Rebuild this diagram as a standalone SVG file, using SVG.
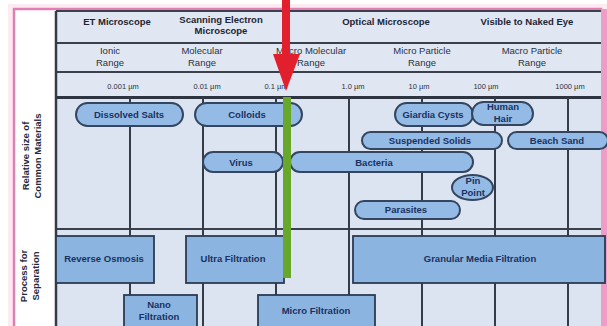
<svg xmlns="http://www.w3.org/2000/svg" width="607" height="326" viewBox="0 0 607 326">
<style>
.hdr{font-family:"Liberation Sans",Arial,sans-serif;font-weight:bold;font-size:9.5px;fill:#1d2533;text-anchor:middle}
.rng{font-family:"Liberation Sans",Arial,sans-serif;font-size:9.5px;fill:#2a3240;text-anchor:middle}
.um{font-family:"Liberation Sans",Arial,sans-serif;font-size:7.5px;fill:#2a3240;text-anchor:middle}
.lbl{font-family:"Liberation Sans",Arial,sans-serif;font-weight:bold;font-size:9.5px;fill:#1f2a3c;text-anchor:middle}
.pill{fill:#93bbe5;stroke:#34465f;stroke-width:2}
.box{fill:#8cb4e1;stroke:#2c3b52;stroke-width:1.8}
.ntx{font-family:"Liberation Sans",Arial,sans-serif;font-weight:bold;font-size:9.5px;fill:#1b3160;text-anchor:middle}
.grid{stroke:#343c48;stroke-width:2}
.hl{stroke:#3a414c;stroke-width:2}
</style>
<rect x="0" y="0" width="607" height="326" fill="#ffffff"/>
<rect x="8" y="4" width="599" height="330" fill="#fcecf2"/>
<rect x="14" y="9" width="587" height="330" fill="#ffffff" stroke="#e07fb4" stroke-width="2.5"/>
<rect x="601" y="9" width="6" height="320" fill="#ef9cc6"/>
<g id="chart">
<rect x="56" y="11" width="545" height="320" fill="#dce4f1"/>
<rect x="56" y="11" width="545" height="86" fill="#e0e7f3"/>
<line class="hl" x1="56" y1="11" x2="601" y2="11"/>
<line class="hl" x1="56" y1="43" x2="601" y2="43"/>
<line class="hl" x1="56" y1="72" x2="601" y2="72"/>
<line x1="56" y1="97.5" x2="601" y2="97.5" stroke="#2f3540" stroke-width="3"/>
<line class="hl" x1="56" y1="229" x2="601" y2="229"/>
<line x1="56" y1="11" x2="56" y2="326" stroke="#343c48" stroke-width="2.5"/>
</g>
<g id="grid">
<line class="grid" x1="130" y1="97" x2="130" y2="326"/>
<line class="grid" x1="203" y1="97" x2="203" y2="326"/>
<line class="grid" x1="276" y1="97" x2="276" y2="326"/>
<line class="grid" x1="349" y1="97" x2="349" y2="326"/>
<line class="grid" x1="422" y1="97" x2="422" y2="326"/>
<line class="grid" x1="495" y1="97" x2="495" y2="326"/>
<line class="grid" x1="568" y1="97" x2="568" y2="326"/>
</g>
<g id="headers">
<text class="hdr" x="117" y="25">ET Microscope</text>
<text class="hdr" x="221" y="23">Scanning Electron</text>
<text class="hdr" x="221" y="34">Microscope</text>
<text class="hdr" x="386" y="25">Optical Microscope</text>
<text class="hdr" x="527" y="25">Visible to Naked Eye</text>
<text class="rng" x="110" y="54">Ionic</text>
<text class="rng" x="110" y="66">Range</text>
<text class="rng" x="202" y="54">Molecular</text>
<text class="rng" x="202" y="66">Range</text>
<text class="rng" x="311" y="54">Macro Molecular</text>
<text class="rng" x="311" y="66">Range</text>
<text class="rng" x="422" y="54">Micro Particle</text>
<text class="rng" x="422" y="66">Range</text>
<text class="rng" x="532" y="54">Macro Particle</text>
<text class="rng" x="532" y="66">Range</text>
<text class="um" x="123" y="89">0.001 µm</text>
<text class="um" x="207" y="89">0.01 µm</text>
<text class="um" x="276" y="89">0.1 µm</text>
<text class="um" x="353" y="89">1.0 µm</text>
<text class="um" x="419" y="89">10 µm</text>
<text class="um" x="486" y="89">100 µm</text>
<text class="um" x="570" y="89">1000 µm</text>
<text class="lbl" transform="translate(29,156) rotate(-90)">Relative size of</text>
<text class="lbl" transform="translate(41,156) rotate(-90)">Common Materials</text>
<text class="lbl" transform="translate(27,276) rotate(-90)">Process for</text>
<text class="lbl" transform="translate(39,276) rotate(-90)">Separation</text>
</g>
<g id="dissolved-salts"><rect class="pill" x="76" y="103" width="107" height="23" rx="11.5"/><text class="ntx" x="129" y="118">Dissolved Salts</text></g>
<g id="colloids"><rect class="pill" x="195" y="103" width="107" height="23" rx="11.5"/><text class="ntx" x="247" y="118">Colloids</text></g>
<g id="virus"><rect class="pill" x="203" y="152" width="80" height="20" rx="10"/><text class="ntx" x="241" y="165.5">Virus</text></g>
<g id="bacteria"><rect class="pill" x="290" y="152" width="183" height="20" rx="10"/><text class="ntx" x="374" y="165.5">Bacteria</text></g>
<g id="giardia-cysts"><rect class="pill" x="395" y="103" width="78" height="23" rx="11.5"/><text class="ntx" x="433" y="118">Giardia Cysts</text></g>
<g id="human-hair"><rect class="pill" x="472" y="102" width="61" height="23" rx="11.5"/><text class="ntx" x="503" y="110">Human</text><text class="ntx" x="503" y="122">Hair</text></g>
<g id="suspended-solids"><rect class="pill" x="362" y="132" width="140" height="17" rx="8.5"/><text class="ntx" x="430" y="143.5">Suspended Solids</text></g>
<g id="beach-sand"><rect class="pill" x="508" y="132" width="100" height="17" rx="8.5"/><text class="ntx" x="557" y="143.5">Beach Sand</text></g>
<g id="pin-point"><ellipse class="pill" cx="472.5" cy="187.5" rx="20.5" ry="12.5"/><text class="ntx" x="473" y="184">Pin</text><text class="ntx" x="473" y="196">Point</text></g>
<g id="parasites"><rect class="pill" x="355" y="201" width="105" height="18" rx="9"/><text class="ntx" x="406" y="213">Parasites</text></g>
<g id="reverse-osmosis"><rect class="box" x="56" y="236" width="98" height="47"/><text class="ntx" x="104" y="262">Reverse Osmosis</text></g>
<g id="ultra-filtration"><rect class="box" x="186" y="236" width="98" height="47"/><text class="ntx" x="233" y="262">Ultra Filtration</text></g>
<g id="granular-media-filtration"><rect class="box" x="353" y="236" width="252" height="47"/><text class="ntx" x="480" y="262">Granular Media Filtration</text></g>
<g id="nano-filtration"><rect class="box" x="124" y="295" width="73" height="36"/><text class="ntx" x="159" y="308">Nano</text><text class="ntx" x="159" y="320">Filtration</text></g>
<g id="micro-filtration"><rect class="box" x="258" y="295" width="117" height="36"/><text class="ntx" x="316" y="314">Micro Filtration</text></g>
<g id="connectors">
<rect x="283" y="97" width="8" height="181" fill="#67a82a"/>
<rect x="282" y="0" width="8" height="56" fill="#e2202d"/>
<polygon points="273,54 300,54 286,91" fill="#e2202d"/>
</g>
</svg>
